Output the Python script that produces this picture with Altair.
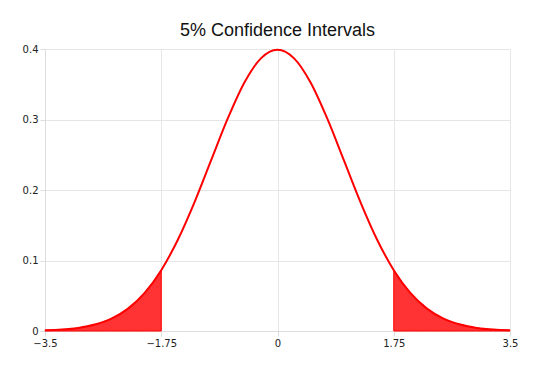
import altair as alt
import pandas as pd

x_vals = [-3.5, -3.25, -3.0, -2.75, -2.5, -2.25, -2.0, -1.75, -1.5, -1.25, -1.0, -0.75, -0.5, -0.25,
          0.0, 0.25, 0.5, 0.75, 1.0, 1.25, 1.5, 1.75, 2.0, 2.25, 2.5, 2.75, 3.0, 3.25, 3.5]
density = [0.0009, 0.0020, 0.0044, 0.0091, 0.0175, 0.0317, 0.0540, 0.0863, 0.1295, 0.1826, 0.2420,
           0.3011, 0.3521, 0.3867, 0.3989, 0.3867, 0.3521, 0.3011, 0.2420, 0.1826, 0.1295, 0.0863,
           0.0540, 0.0317, 0.0175, 0.0091, 0.0044, 0.0020, 0.0009]
x_ticks = [-3.5, -1.75, 0, 1.75, 3.5]
y_ticks = [0, 0.1, 0.2, 0.3, 0.4]
cutoff = 1.75

df = pd.DataFrame({"x": x_vals, "y": density})
df["side"] = ["left" if v <= -cutoff else ("right" if v >= cutoff else "mid") for v in x_vals]
tails = df[df["side"] != "mid"]

xenc = alt.X("x:Q", scale=alt.Scale(domain=[-3.5, 3.5], nice=False, zero=False),
             axis=alt.Axis(values=x_ticks, title=None, labelFlush=False,
                           labelExpr="format(datum.value, '~g')"))
yenc = alt.Y("y:Q", scale=alt.Scale(domain=[0, 0.4], nice=False), stack=None,
             axis=alt.Axis(values=y_ticks, title=None,
                           labelExpr="datum.value == 0 ? '0' : format(datum.value, '.1f')"))

area = alt.Chart(tails).mark_area(color="#ff3333", stroke="#ff0000", strokeWidth=1,
                                  interpolate="monotone", opacity=1).encode(
    x=xenc, y=yenc, detail="side:N")
line = alt.Chart(df).mark_line(color="#ff0000", strokeWidth=2, interpolate="monotone").encode(
    x=xenc, y=yenc)

chart = (area + line).properties(
    width=465, height=282,
    title=alt.TitleParams("5% Confidence Intervals", font="Liberation Sans", fontSize=18,
                          fontWeight="normal", color="#111", anchor="middle", offset=4),
    autosize=alt.AutoSizeParams(type="none"),
    padding={"left": 37, "top": 41, "right": 23, "bottom": 28},
).configure_view(stroke=None).configure_axis(
    domainColor="#dddddd", gridColor="#e6e6e6", tickColor="#dddddd", tickSize=5,
    labelFont="DejaVu Sans", labelFontSize=10, labelColor="#222", labelPadding=2,
)

chart.save("out.html", embed_options={"renderer": "svg", "actions": False})
